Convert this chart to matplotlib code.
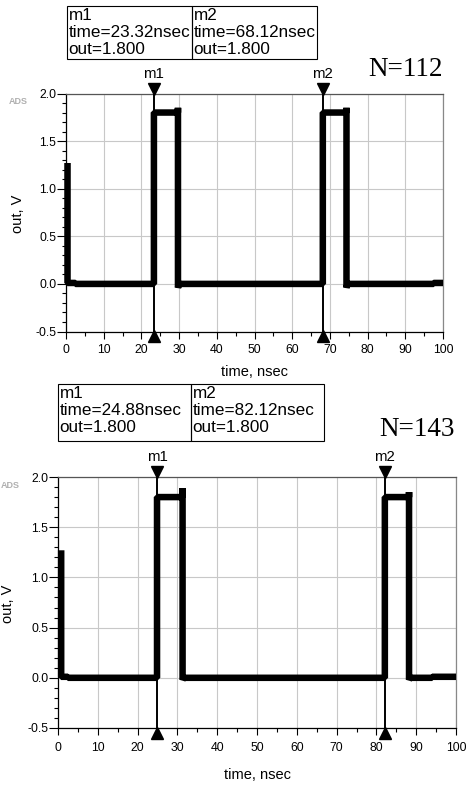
import matplotlib
matplotlib.use("Agg")
import matplotlib.pyplot as plt
from matplotlib.transforms import offset_copy
from matplotlib.ticker import MultipleLocator

# ---------------- data ----------------
x_ticks = [0, 10, 20, 30, 40, 50, 60, 70, 80, 90, 100]
y_ticks = [-0.5, 0.0, 0.5, 1.0, 1.5, 2.0]

# panel 1 (N=112)
t1 = [0.4, 0.4, 2.5, 2.5, 23.32, 23.32, 29.7, 29.7, 29.7, 30.0, 68.12, 68.12, 74.4, 74.4, 74.4, 74.7, 97.5, 97.5, 100]
v1 = [1.27, 0.01, 0.01, 0.0, 0.0, 1.80, 1.80, 1.85, -0.04, 0.0, 0.0, 1.80, 1.80, 1.85, -0.04, 0.0, 0.0, 0.01, 0.01]
markers1 = [("m1", 23.32, 1.800), ("m2", 68.12, 1.800)]
title1 = "N=112"

# panel 2 (N=143)
t2 = [0.8, 0.8, 2.5, 2.5, 24.88, 24.88, 31.3, 31.3, 31.3, 31.6, 82.12, 82.12, 88.2, 88.2, 88.2, 88.5, 94.0, 94.0, 100]
v2 = [1.27, 0.01, 0.01, 0.0, 0.0, 1.80, 1.80, 1.89, -0.02, 0.0, 0.0, 1.80, 1.80, 1.85, -0.02, 0.0, 0.0, 0.01, 0.01]
markers2 = [("m1", 24.88, 1.800), ("m2", 82.12, 1.800)]
title2 = "N=143"

W, H = 466, 785
SANS = ["Liberation Sans", "DejaVu Sans"]
SERIF = ["Liberation Serif", "DejaVu Serif"]
plt.rcParams["font.family"] = SANS

fig = plt.figure(figsize=(W / 100, H / 100), dpi=100)


def fx(x):
    return x / W


def fy(y):
    return 1 - y / H


def make_panel(rect_px, t, v, markers, title, box_px, title_px, ylabel_px, xlabel_px, ads_px, xtick_pad):
    left, top, right, bottom = rect_px
    ax = fig.add_axes([fx(left), fy(bottom), (right - left) / W, (bottom - top) / H])
    ax.set_xlim(0, 100)
    ax.set_ylim(-0.5, 2.0)
    ax.set_xticks(x_ticks)
    ax.set_yticks(y_ticks)
    ax.xaxis.set_minor_locator(MultipleLocator(5))
    ax.yaxis.set_minor_locator(MultipleLocator(0.1))
    ax.set_yticklabels([f"{y:.1f}" for y in y_ticks])
    ax.set_xticklabels([str(x) for x in x_ticks])
    ax.tick_params(axis="x", which="major", direction="out", length=5, width=0.8, pad=xtick_pad, labelsize=8.8)
    ax.tick_params(axis="x", which="minor", direction="out", length=3, width=0.8)
    ax.tick_params(axis="y", which="major", direction="out", length=6.5, width=0.8, pad=0.5, labelsize=8.8)
    ax.tick_params(axis="y", which="minor", direction="out", length=3, width=0.8)
    ax.grid(True, which="major", color="#c8c8c8", linewidth=0.8)
    ax.set_axisbelow(True)
    for s in ["left", "bottom"]:
        ax.spines[s].set_color("black")
        ax.spines[s].set_linewidth(0.9)
    ax.spines["top"].set_color("#555555")
    ax.spines["right"].set_color("#888888")
    ax.spines["top"].set_linewidth(0.9)
    ax.spines["right"].set_linewidth(0.9)

    # markers (thin lines + triangles)
    for name, mt, mv in markers:
        ax.plot([mt, mt], [-0.5, 2.0], color="black", linewidth=1.4, zorder=4, clip_on=False)
        tr_top = offset_copy(ax.transData, fig=fig, x=0, y=4.5, units="dots")
        tr_bot = offset_copy(ax.transData, fig=fig, x=0, y=-4.5, units="dots")
        ax.plot([mt], [2.0], marker="v", markersize=8, color="black", transform=tr_top, clip_on=False, zorder=5)
        ax.plot([mt], [-0.5], marker="^", markersize=8, color="black", transform=tr_bot, clip_on=False, zorder=5)
        tr_lab = offset_copy(ax.transData, fig=fig, x=0, y=20, units="dots")
        ax.text(mt, 2.0, name, transform=tr_lab, ha="center", va="center", fontsize=10.8, clip_on=False)

    # waveform
    ax.plot(t, v, color="black", linewidth=4.7, solid_joinstyle="bevel", solid_capstyle="butt",
            zorder=3, clip_on=False)

    # readout boxes
    bx0, by0, bw, bh = box_px
    for i, (name, mt, mv) in enumerate(markers):
        x0 = bx0 + i * bw
        rect = plt.Rectangle((fx(x0), fy(by0 + bh)), bw / W, bh / H, transform=fig.transFigure,
                             fill=False, edgecolor="black", linewidth=0.8)
        fig.add_artist(rect)
        lines = [name, f"time={mt:.2f}nsec", f"out={mv:.3f}"]
        for j, s in enumerate(lines):
            fig.text(fx(x0 + 1.5), fy(by0 + 9.5 + j * 16.8), s, ha="left", va="center", fontsize=12.3)

    fig.text(fx(title_px[0]), fy(title_px[1]), title, ha="right", va="center", fontsize=19.5, family=SERIF)
    fig.text(fx(ylabel_px[0]), fy(ylabel_px[1]), "out, V", rotation=90, ha="center", va="center", fontsize=10.5)
    fig.text(fx(xlabel_px[0]), fy(xlabel_px[1]), "time, nsec", ha="center", va="center", fontsize=10.5)
    fig.text(fx(ads_px[0]), fy(ads_px[1]), "ADS", ha="center", va="center", fontsize=6.5,
             color="#b0b0b0", fontweight="bold")
    return ax


make_panel((66, 93.5, 443, 331.5), t1, v1, markers1, title1,
           box_px=(67, 6, 125, 53), title_px=(443, 70), ylabel_px=(18, 214), xlabel_px=(255, 372),
           ads_px=(18, 101), xtick_pad=4)

make_panel((58, 477, 456, 728), t2, v2, markers2, title2,
           box_px=(58, 384, 133, 57), title_px=(455, 429), ylabel_px=(8, 604), xlabel_px=(257, 775),
           ads_px=(10, 485), xtick_pad=5)

fig.savefig("out.png", dpi=100)
